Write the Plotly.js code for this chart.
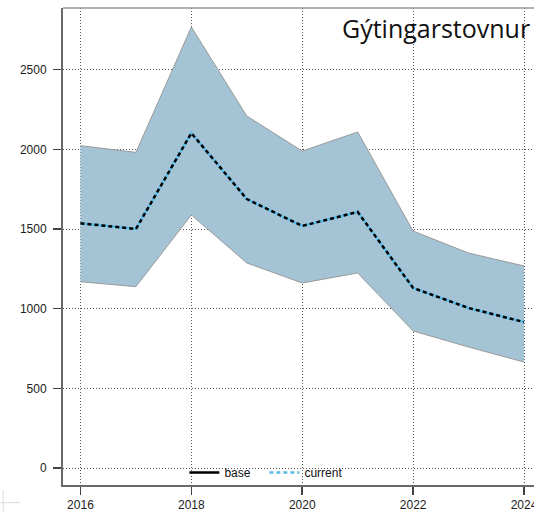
<!DOCTYPE html>
<html>
<head>
<meta charset="utf-8">
<script src="https://cdn.plot.ly/plotly-3.0.1.min.js"></script>
<style>html,body{margin:0;padding:0;background:#fff;}#chart{width:534px;height:512px;}</style>
</head>
<body>
<div id="chart"></div>
<script>
const years = [2016, 2017, 2018, 2019, 2020, 2021, 2022, 2023, 2024];
const upper = [2023, 1981, 2768, 2209, 1989, 2109, 1487, 1349, 1268];
const current = [1536, 1500, 2102, 1688, 1519, 1607, 1130, 1004, 916];
const lower = [1169, 1138, 1588, 1287, 1161, 1224, 860, 759, 665];
const titleText = "Gýtingarstovnur";
const yTicks = [0, 500, 1000, 1500, 2000, 2500];
const xTicks = [2016, 2018, 2020, 2022, 2024];

const traces = [
  {x: years, y: lower, mode: 'lines', line: {color: '#9a9a9a', width: 1}, showlegend: false, hoverinfo: 'skip'},
  {x: years, y: upper, mode: 'lines', fill: 'tonexty', fillcolor: '#a4c4d6', line: {color: '#9a9a9a', width: 1}, showlegend: false, hoverinfo: 'skip'},
  {x: [null], y: [null], mode: 'lines', name: 'base', line: {color: '#000', width: 2.5}},
  {x: [null], y: [null], mode: 'lines', name: 'current', line: {color: '#5bbce8', width: 2.5, dash: '4px,3px'}},
  {x: years, y: current, mode: 'lines', showlegend: false, line: {color: '#5bbce8', width: 2.5}},
  {x: years, y: current, mode: 'lines', showlegend: false, line: {color: '#000', width: 2.5, dash: '4px,3px'}}
];

const layout = {
  width: 534, height: 512,
  margin: {l: 63, r: 0, t: 8, b: 27},
  paper_bgcolor: '#fff', plot_bgcolor: '#fff',
  font: {family: 'Liberation Sans, Arial, sans-serif', size: 12, color: '#222'},
  xaxis: {
    range: [2015.685, 2024.18], tickvals: xTicks, ticktext: xTicks.map(String),
    showgrid: true, gridcolor: '#555', griddash: '1px,2px', gridwidth: 1,
    zeroline: false, showline: true, linecolor: '#6a6a6a', linewidth: 2,
    ticks: 'outside', ticklen: 8, tickcolor: '#444', tickwidth: 1.5,
    ticklabelstandoff: 0, ticklabeloverflow: 'allow', tickfont: {size: 12, color: '#222'}
  },
  yaxis: {
    range: [-106.7, 2887], tickvals: yTicks, ticktext: yTicks.map(String),
    showgrid: true, gridcolor: '#555', griddash: '1px,2px', gridwidth: 1,
    zeroline: false, showline: true, linecolor: '#6a6a6a', linewidth: 2,
    ticks: 'outside', ticklen: 8, tickcolor: '#444', tickwidth: 1.5,
    ticklabelstandoff: 4, tickfont: {size: 12, color: '#222'}
  },
  showlegend: true,
  legend: {
    orientation: 'h', x: 0.2577, y: 0.026, xanchor: 'left', yanchor: 'middle',
    bgcolor: 'rgba(0,0,0,0)', font: {size: 12, color: '#111'}, itemwidth: 30,
    entrywidth: 35, entrywidthmode: 'pixels', traceorder: 'normal'
  },
  shapes: [
    {type: 'line', xref: 'paper', yref: 'paper', x0: 0, x1: 1.05, y0: 1, y1: 1, line: {color: '#9a9a9a', width: 1.5}},
    {type: 'line', xref: 'paper', yref: 'paper', x0: -0.127, x1: -0.127, y0: -0.01, y1: -0.056, line: {color: '#dddddd', width: 1}},
    {type: 'line', xref: 'paper', yref: 'paper', x0: -0.134, x1: -0.09, y0: -0.037, y1: -0.037, line: {color: '#dddddd', width: 1}}
  ],
  annotations: [
    {text: titleText, xref: 'paper', yref: 'paper', x: (340 - 63) / 471, y: 1 - (28 - 8) / 477,
     xanchor: 'left', yanchor: 'middle', showarrow: false,
     font: {family: 'Open Sans, sans-serif', size: 25, color: '#111'}}
  ]
};

Plotly.newPlot('chart', traces, layout, {displayModeBar: false, staticPlot: true});
</script>
</body>
</html>
